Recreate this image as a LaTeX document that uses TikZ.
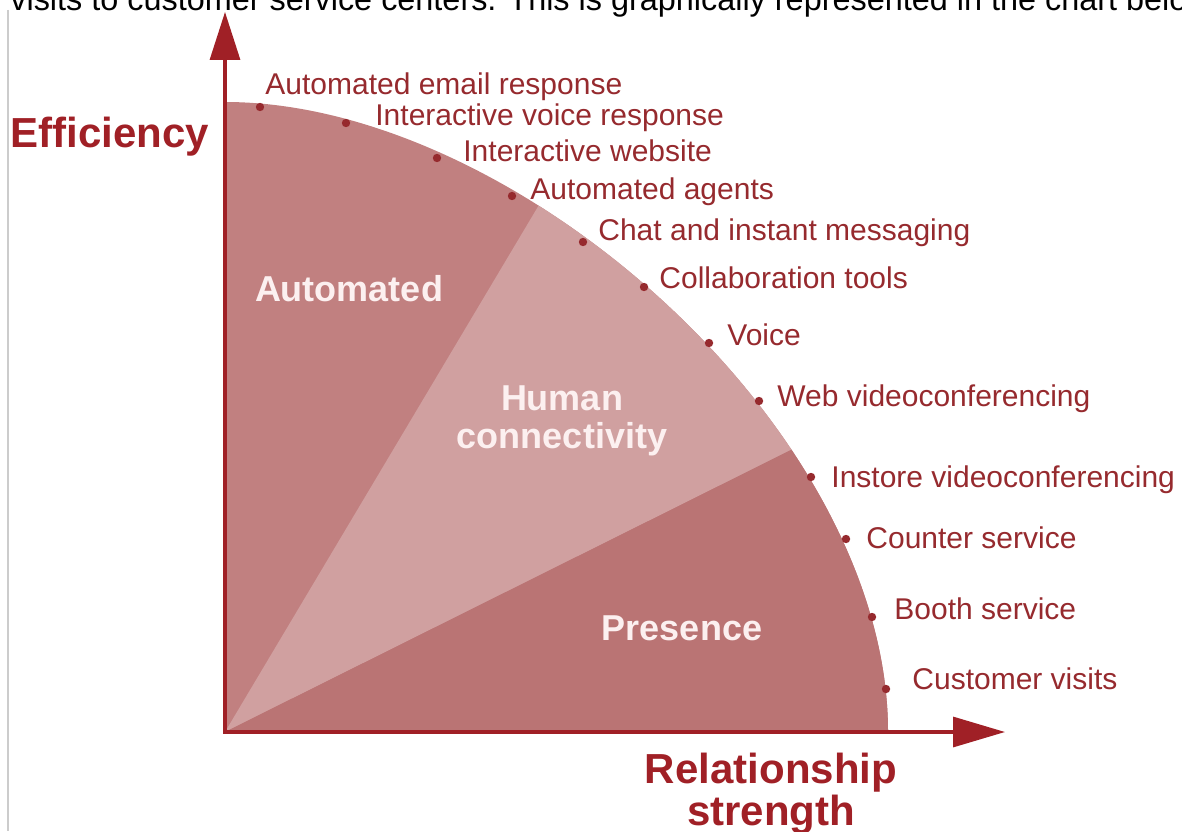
\documentclass[tikz,border=0pt]{standalone}
\usepackage{fontspec}
\setmainfont{Liberation Sans}
\usetikzlibrary{arrows.meta,positioning}

\definecolor{axisred}{RGB}{160,32,38}
\definecolor{itemred}{RGB}{150,42,46}
\definecolor{automated}{RGB}{193,128,128}
\definecolor{human}{RGB}{208,160,160}
\definecolor{presence}{RGB}{186,116,116}
\definecolor{regiontext}{RGB}{252,240,240}

\begin{document}
\begin{tikzpicture}[
		x=0.5pt, y=0.5pt,
		axis/.style={line width=1.6pt, draw=axisred, {Triangle[length=24pt,width=15pt]}-{Triangle[length=26pt,width=15pt]}},
		dot/.style={circle, fill=itemred, inner sep=0pt, minimum size=4.2pt},
		item/.style={anchor=base west, inner sep=0pt, text=itemred, font=\fontsize{15}{18}\selectfont},
		region/.style={anchor=base, align=center, inner sep=0pt, text=regiontext, font=\fontsize{18}{19}\selectfont\bfseries},
		axislabel/.style={align=center, inner sep=0pt, text=axisred, font=\fontsize{21}{18.5}\selectfont\bfseries},
	]
		\useasboundingbox (0,0) rectangle (1182,831);

		\draw[line width=0.8pt, draw=black!20] (8,821) -- (8,0);
		\node (intro) [anchor=base west, inner sep=0pt, font=\fontsize{16.2}{19}\selectfont] at (10,820) {visits to customer service centers. This is graphically represented in the chart below.};

		\coordinate (O) at (225,99);
		\coordinate (top) at (225,729);
		\coordinate (end) at (888,99);
		\coordinate (ytip) at (225,819);
		\coordinate (xtip) at (1005,99);

		% quarter disc, split in three wedges
		\fill[automated] (O) -- (top) .. controls (517,729) and (888,401) .. (end) -- cycle;
		\begin{scope}
			\clip (O) -- (top) .. controls (517,729) and (888,401) .. (end) -- cycle;
			\fill[human] (O) -- (841,1133) -- (1365,667) -- cycle;
			\fill[presence] (O) -- (1365,667) -- (1365,99) -- cycle;
		\end{scope}

		\draw[axis] (ytip) -- (O) -- (xtip);

		\node (auto) [region] at (349,529) {Automated};
		\node (hum) [region] at (562,383) {Human\\connectivity};
		\node (pres) [region] at (682,191) {Presence};

		\node (eff) [axislabel, anchor=base west] at (10,683) {Efficiency};
		\node (rel) [axislabel, anchor=base] at (771,6) {Relationship\\strength};

		\node (d1) [dot] at (260,724) {};
		\node (d2) [dot] at (346,708) {};
		\node (d3) [dot] at (437,673) {};
		\node (d4) [dot] at (512,635) {};
		\node (d5) [dot] at (583,589) {};
		\node (d6) [dot] at (644,544) {};
		\node (d7) [dot] at (709,488) {};
		\node (d8) [dot] at (759,430) {};
		\node (d9) [dot] at (811,354) {};
		\node (d10) [dot] at (846,292) {};
		\node (d11) [dot] at (872,214) {};
		\node (d12) [dot] at (886,142) {};

		\node (l1) [item] at (265,736) {Automated email response};
		\node (l2) [item] at (375,705) {Interactive voice response};
		\node (l3) [item] at (463,669) {Interactive website};
		\node (l4) [item] at (530,631) {Automated agents};
		\node (l5) [item] at (598,590) {Chat and instant messaging};
		\node (l6) [item] at (659,542) {Collaboration tools};
		\node (l7) [item] at (727,485) {Voice};
		\node (l8) [item] at (777,425) {Web videoconferencing};
		\node (l9) [item] at (831,344) {Instore videoconferencing};
		\node (l10) [item] at (866,283) {Counter service};
		\node (l11) [item] at (894,212) {Booth service};
		\node (l12) [item] at (912,142) {Customer visits};
	\end{tikzpicture}
\end{document}
